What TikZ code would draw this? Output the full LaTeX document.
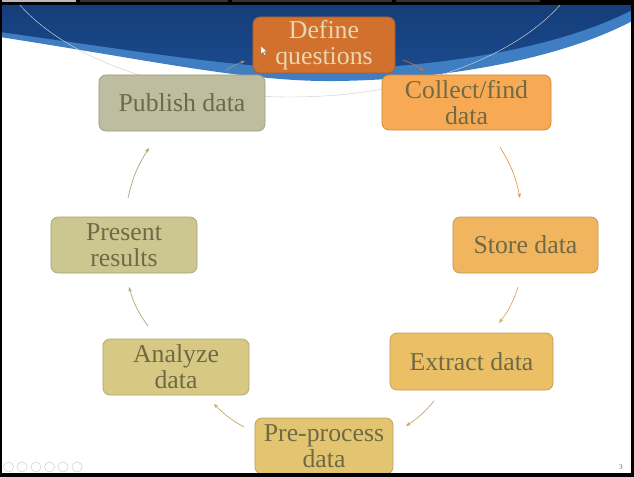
\documentclass[tikz,border=0pt]{standalone}
\usepackage{fontspec}
\setmainfont{Liberation Serif}
\usetikzlibrary{arrows.meta}
\definecolor{cDef}{HTML}{D2702E}
\definecolor{cDefTxt}{HTML}{E8D8B2}
\definecolor{cCol}{HTML}{F8A954}
\definecolor{cSto}{HTML}{F1B560}
\definecolor{cExt}{HTML}{EBBF66}
\definecolor{cPre}{HTML}{E3C571}
\definecolor{cAna}{HTML}{D7C883}
\definecolor{cPrs}{HTML}{CCC791}
\definecolor{cPub}{HTML}{BEBD9F}
\definecolor{cTxt}{HTML}{6F6A45}
\definecolor{blueDark}{HTML}{1B4A8C}
\definecolor{blueTop}{HTML}{143C78}
\definecolor{blueBand}{HTML}{3F7EC2}
\definecolor{iconGray}{HTML}{D4D4D4}
\begin{document}
\begin{tikzpicture}[x=0.03cm,y=-0.03cm,
  stepbox/.style={draw=#1!82!black, fill=#1, rounded corners=6pt, line width=0.6pt,
    text=cTxt, align=center, inner sep=0pt,
    font=\fontsize{22}{22}\selectfont},
  arr/.style={draw=#1, line width=0.55pt, -{Stealth[length=4pt,width=3pt]}},
  navicon/.style={draw=iconGray, line width=0.5pt, circle, minimum size=0.3cm, inner sep=0pt}]
\useasboundingbox (0,0) rectangle (634,477);
\fill[white] (0,0) rectangle (634,477);
% blue swoosh
\fill[blueBand] (0,0) -- (634,0) -- (634,20)
  .. controls (560,60) and (440,80) .. (335,81)
  .. controls (250,82) and (160,62) .. (0,37) -- cycle;
\shade[top color=blueTop, bottom color=blueDark] (0,0) -- (634,0) -- (634,9)
  .. controls (560,48) and (440,67) .. (335,69)
  .. controls (250,70) and (150,53) .. (0,32) -- cycle;
% faint arc
\begin{scope}
\clip (0,0) rectangle (634,477);
\draw[gray!35, line width=0.4pt] (290,-66) ellipse [x radius=9cm, y radius=4.89cm];
\end{scope}
% arrow end points
\coordinate (a1s) at (403,60);  \coordinate (a1e) at (424,71);
\coordinate (a2s) at (500,147); \coordinate (a2e) at (520,198);
\coordinate (a3s) at (518,287); \coordinate (a3e) at (499,323);
\coordinate (a4s) at (434,401); \coordinate (a4e) at (406,426);
\coordinate (a5s) at (244,427); \coordinate (a5e) at (214,404);
\coordinate (a6s) at (148,326); \coordinate (a6e) at (129,287);
\coordinate (a7s) at (128,198); \coordinate (a7e) at (149,148);
\coordinate (a8s) at (225,71);  \coordinate (a8e) at (245,61);
\draw[arr=cDef] (a1s) to[bend left=8] (a1e);
\draw[arr=cCol!90!black] (a2s) to[bend left=10] (a2e);
\draw[arr=cSto!90!black] (a3s) to[bend left=10] (a3e);
\draw[arr=cExt!85!black] (a4s) to[bend left=8] (a4e);
\draw[arr=cPre!85!black] (a5s) to[bend left=8] (a5e);
\draw[arr=cAna!80!black] (a6s) to[bend left=10] (a6e);
\draw[arr=cPrs!80!black] (a7s) to[bend left=10] (a7e);
\draw[arr=cPub!80!black] (a8s) to[bend left=8] (a8e);
% boxes
\node[stepbox=cDef, text=cDefTxt, minimum width=4.26cm, minimum height=1.68cm] (def) at (324,45) {Define\\questions};
\node[stepbox=cCol, minimum width=5.07cm, minimum height=1.65cm] (col) at (466.5,102.5) {Collect/find\\data};
\node[stepbox=cSto, minimum width=4.35cm, minimum height=1.68cm] (sto) at (525.5,245) {Store data};
\node[stepbox=cExt, minimum width=4.89cm, minimum height=1.71cm] (ext) at (471.5,361.5) {Extract data};
\node[stepbox=cPre, minimum width=4.14cm, minimum height=1.68cm] (pre) at (324,446) {Pre-process\\data};
\node[stepbox=cAna, minimum width=4.38cm, minimum height=1.68cm] (ana) at (176,367) {Analyze\\data};
\node[stepbox=cPrs, minimum width=4.38cm, minimum height=1.68cm] (prs) at (124,245) {Present\\results};
\node[stepbox=cPub, minimum width=4.98cm, minimum height=1.68cm] (pub) at (182,103) {Publish data};
% mouse cursor
\filldraw[fill=white, draw=gray, line width=0.3pt] (261,46) -- (261,54) -- (263,52.2) -- (264.6,55.4) -- (265.8,54.8) -- (264.3,51.6) -- (266.8,51.4) -- cycle;
% screen frame
\fill[black] (0,0) rectangle (634,5);
\fill[gray!55] (0,0) rectangle (76,2);
\fill[black!80] (80,0) rectangle (228,2);
\fill[black!80] (232,0) rectangle (392,2);
\fill[black!80] (396,0) rectangle (540,2);
\fill[black] (0,0) rectangle (2,477);
\fill[black] (631,0) rectangle (634,477);
\fill[black] (0,473) rectangle (634,477);
% navigation icons
\node[navicon] (n1) at (8.5,467) {};
\node[navicon] (n2) at (22,467) {};
\node[navicon] (n3) at (36,467) {};
\node[navicon] (n4) at (49.5,467) {};
\node[navicon] (n5) at (63,467) {};
\node[navicon] (n6) at (77,467) {};
\node[text=gray!80!black, font=\fontsize{6}{6}\selectfont, inner sep=0pt] (pg) at (621,467) {3};
\end{tikzpicture}
\end{document}
